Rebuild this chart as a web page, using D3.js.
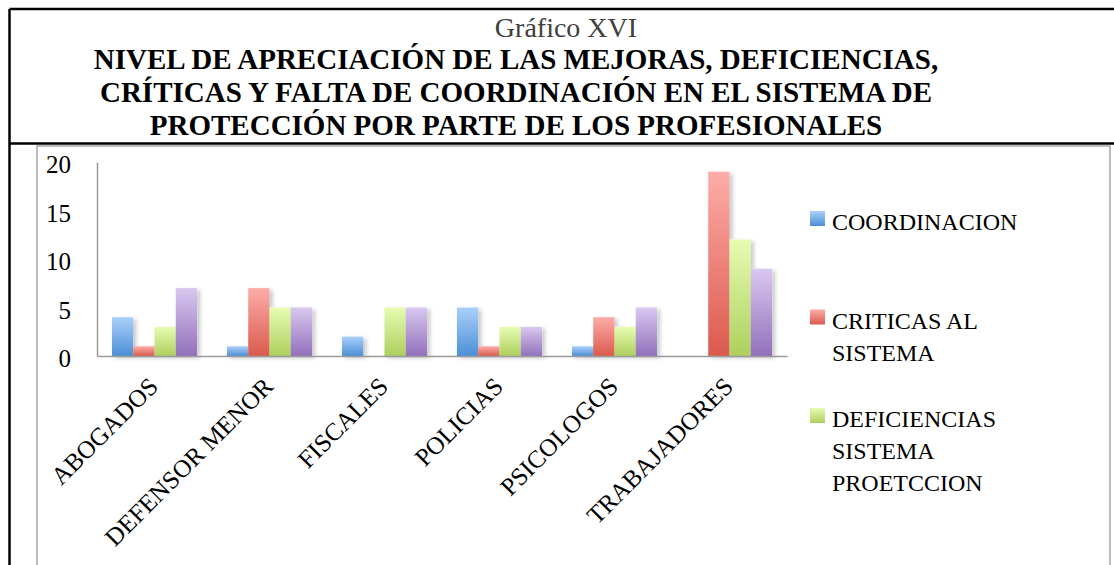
<!DOCTYPE html>
<html>
<head>
<meta charset="utf-8">
<script src="https://cdn.jsdelivr.net/npm/d3@7"></script>
<style>
  body { margin: 0; background: #fff; }
  svg { display: block; }
  text { font-family: "Liberation Serif", "Times New Roman", serif; }
</style>
</head>
<body>
<div id="chart"></div>
<script>
// data
const categories = ["ABOGADOS", "DEFENSOR MENOR", "FISCALES", "POLICIAS", "PSICOLOGOS", "TRABAJADORES"];
const seriesNames = ["COORDINACION", "CRITICAS AL SISTEMA", "DEFICIENCIAS SISTEMA PROETCCION", "MEJORAS"];
const coordinacion = [4, 1, 2, 5, 1, 0];
const criticas = [1, 7, 0, 1, 4, 19];
const deficiencias = [3, 5, 5, 3, 3, 12];
const mejoras = [7, 5, 5, 3, 5, 9];
const yTicks = [0, 5, 10, 15, 20];
const titleSmall = "Gráfico XVI";
const titleLines = [
  "NIVEL DE APRECIACIÓN DE LAS MEJORAS, DEFICIENCIAS,",
  "CRÍTICAS Y FALTA DE COORDINACIÓN EN EL SISTEMA DE",
  "PROTECCIÓN POR PARTE DE LOS PROFESIONALES"
];

const seriesValues = [coordinacion, criticas, deficiencias, mejoras];
// light top -> dark bottom, like the office gradient fill
const gradColors = [
  ["#aad0fa", "#4d8fd6"],
  ["#fdaca8", "#db5a4d"],
  ["#e7fcb2", "#aecf5e"],
  ["#d9c8f0", "#9270bb"]
];

const W = 1114, H = 565;
const svg = d3.select("#chart").append("svg")
  .attr("width", W)
  .attr("height", H);

const defs = svg.append("defs");
gradColors.forEach((c, i) => {
  const g = defs.append("linearGradient")
    .attr("id", "grad" + i)
    .attr("x1", 0).attr("y1", 0).attr("x2", 0).attr("y2", 1);
  g.append("stop").attr("offset", "0%").attr("stop-color", c[0]);
  g.append("stop").attr("offset", "100%").attr("stop-color", c[1]);
});
defs.append("filter")
  .attr("id", "shadow")
  .attr("x", "-30%").attr("y", "-10%").attr("width", "160%").attr("height", "130%")
  .append("feDropShadow")
    .attr("dx", 3).attr("dy", 2)
    .attr("stdDeviation", 2)
    .attr("flood-color", "#000")
    .attr("flood-opacity", 0.22);

// outer document frame (black) and chart area frame (gray)
svg.append("line")
  .attr("x1", 9.5).attr("x2", W).attr("y1", 9).attr("y2", 9)
  .attr("stroke", "#000").attr("stroke-width", 2.5);
svg.append("line")
  .attr("x1", 9.5).attr("x2", 9.5).attr("y1", 9).attr("y2", H)
  .attr("stroke", "#000").attr("stroke-width", 2.5);
svg.append("line")
  .attr("x1", 9.5).attr("x2", W).attr("y1", 143.5).attr("y2", 143.5)
  .attr("stroke", "#000").attr("stroke-width", 2.5);
svg.append("rect")
  .attr("x", 37).attr("y", 146)
  .attr("width", 1073).attr("height", 500)
  .attr("fill", "none")
  .attr("stroke", "#a6a6a6").attr("stroke-width", 1.5);

// titles
svg.append("text")
  .attr("x", 566).attr("y", 37)
  .attr("text-anchor", "middle")
  .style("font-size", "28px")
  .style("fill", "#404040")
  .text(titleSmall);

svg.append("g").selectAll("text")
  .data(titleLines)
  .join("text")
    .attr("x", 516)
    .attr("y", (d, i) => 69 + i * 33)
    .attr("text-anchor", "middle")
    .style("font-size", "29px")
    .style("font-weight", "bold")
    .style("fill", "#000")
    .text(d => d);

// plot area
const plot = { left: 97, right: 787, top: 162, bottom: 356 };

const x0 = d3.scaleBand()
  .domain(categories)
  .range([plot.left, plot.right])
  .paddingInner(0.26)
  .paddingOuter(0.13);

const x1 = d3.scaleBand()
  .domain(d3.range(seriesValues.length))
  .range([0, x0.bandwidth()]);

const y = d3.scaleLinear()
  .domain([0, 20])
  .range([plot.bottom, plot.top]);

// y axis: labels sit well to the left of the line
const yAxis = svg.append("g")
  .attr("transform", `translate(${plot.left},0)`)
  .call(d3.axisLeft(y).tickValues(yTicks).tickSize(0).tickPadding(26));
yAxis.select(".domain")
  .attr("stroke", "#9a9a9a").attr("stroke-width", 1.5);
yAxis.selectAll("text")
  .attr("dy", "0.42em")
  .style("font-family", "'Liberation Serif', serif")
  .style("font-size", "25px")
  .style("fill", "#000");

// bars
const barData = [];
categories.forEach((c, ci) => {
  seriesValues.forEach((vals, si) => {
    barData.push({ cat: c, s: si, v: vals[ci] });
  });
});

svg.append("g")
  .attr("filter", "url(#shadow)")
  .selectAll("rect")
  .data(barData.filter(d => d.v > 0))
  .join("rect")
    .attr("x", d => x0(d.cat) + x1(d.s))
    .attr("y", d => y(d.v))
    .attr("width", x1.bandwidth())
    .attr("height", d => y(0) - y(d.v))
    .attr("fill", d => `url(#grad${d.s})`);

// x axis baseline + rotated category labels
const xAxis = svg.append("g")
  .attr("transform", `translate(0,${plot.bottom})`)
  .call(d3.axisBottom(x0).tickSize(0).tickPadding(0));
xAxis.select(".domain")
  .attr("stroke", "#9a9a9a").attr("stroke-width", 1.5);
xAxis.selectAll(".tick text")
  .attr("text-anchor", "end")
  .attr("dy", null)
  .attr("y", 0)
  .attr("transform", "translate(5,32) rotate(-45)")
  .style("font-family", "'Liberation Serif', serif")
  .style("font-size", "25px")
  .style("fill", "#000");

// legend (the fourth entry does not fit in the reference and is hidden)
const legendSeries = seriesNames.slice(0, 3);
const legend = svg.append("g");
const lineH = 32, itemStep = 98.5, maxW = 175;

legendSeries.forEach((name, i) => {
  const by = 230 + i * itemStep;
  legend.append("rect")
    .attr("x", 810).attr("y", by - 19)
    .attr("width", 15).attr("height", 15)
    .attr("fill", `url(#grad${i})`);
  const t = legend.append("text")
    .attr("x", 832).attr("y", by)
    .style("font-size", "24px")
    .style("fill", "#000");
  // word wrap by measured width
  const words = name.split(" ");
  let line = [];
  let n = 0;
  let ts = t.append("tspan").attr("x", 832).attr("y", by);
  words.forEach(w => {
    line.push(w);
    ts.text(line.join(" "));
    if (ts.node().getComputedTextLength() > maxW && line.length > 1) {
      line.pop();
      ts.text(line.join(" "));
      line = [w];
      n++;
      ts = t.append("tspan").attr("x", 832).attr("y", by + n * lineH).text(w);
    }
  });
});
</script>
</body>
</html>
